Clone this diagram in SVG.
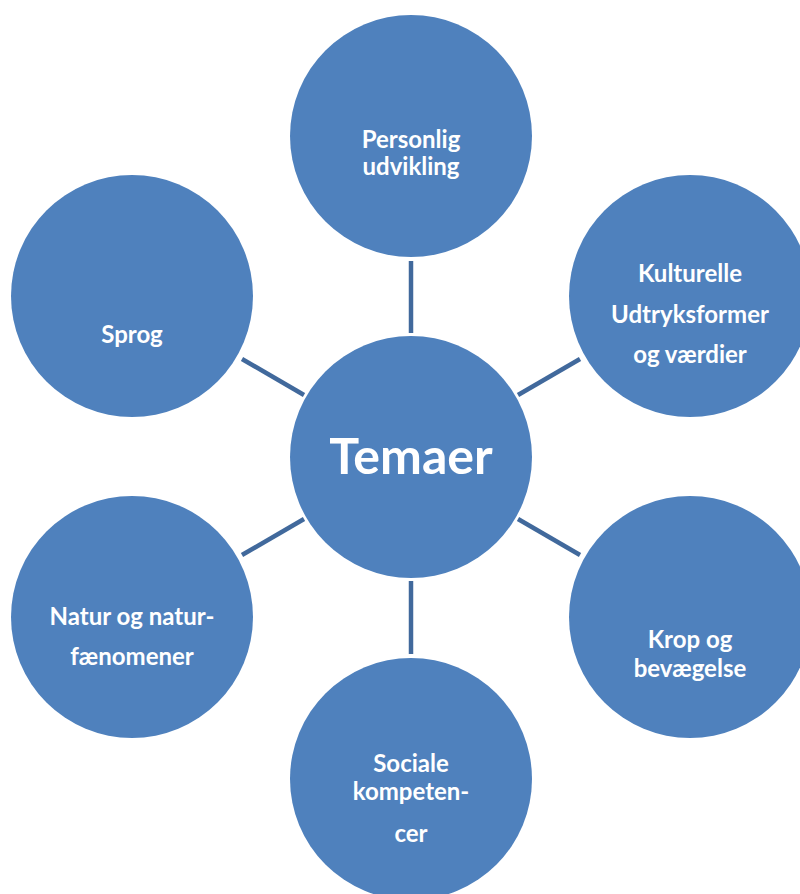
<svg xmlns="http://www.w3.org/2000/svg" width="800" height="894" viewBox="0 0 800 894">
<style>
.node{fill:#4F81BD;}
.lbl{font-family:Lato,"Open Sans","Liberation Sans",sans-serif;font-weight:bold;fill:#FFFFFF;text-anchor:middle;font-size:24px;}
.big{font-size:50px;}
.conn{stroke:#41699C;stroke-width:4.5;fill:none;}
</style>
<rect width="800" height="894" fill="#FFFFFF"/>
<g id="connectors">
<line class="conn" x1="411" y1="261" x2="411" y2="333"/>
<line class="conn" x1="411" y1="581" x2="411" y2="654"/>
<line class="conn" x1="242" y1="359" x2="304" y2="395"/>
<line class="conn" x1="518" y1="395" x2="580" y2="359"/>
<line class="conn" x1="242" y1="555" x2="304" y2="519"/>
<line class="conn" x1="518" y1="519" x2="580" y2="555"/>
</g>
<g id="temaer">
<circle class="node" cx="411" cy="457" r="121"/>
<text class="lbl big" x="411" y="474">Temaer</text>
</g>
<g id="personlig">
<circle class="node" cx="411" cy="136" r="121"/>
<text class="lbl" x="411" y="148">Personlig</text>
<text class="lbl" x="411" y="175">udvikling</text>
</g>
<g id="kulturelle">
<circle class="node" cx="690" cy="296" r="121"/>
<text class="lbl" x="690" y="282">Kulturelle</text>
<text class="lbl" x="690" y="323">Udtryksformer</text>
<text class="lbl" x="690" y="363">og værdier</text>
</g>
<g id="krop">
<circle class="node" cx="690" cy="617" r="121"/>
<text class="lbl" x="690" y="648">Krop og</text>
<text class="lbl" x="690" y="677">bevægelse</text>
</g>
<g id="sociale">
<circle class="node" cx="411" cy="779" r="121"/>
<text class="lbl" x="411" y="772">Sociale</text>
<text class="lbl" x="411" y="800">kompeten-</text>
<text class="lbl" x="411" y="842">cer</text>
</g>
<g id="natur">
<circle class="node" cx="132" cy="617" r="121"/>
<text class="lbl" x="132" y="625">Natur og natur-</text>
<text class="lbl" x="132" y="665">fænomener</text>
</g>
<g id="sprog">
<circle class="node" cx="132" cy="296" r="121"/>
<text class="lbl" x="132" y="343">Sprog</text>
</g>
</svg>
